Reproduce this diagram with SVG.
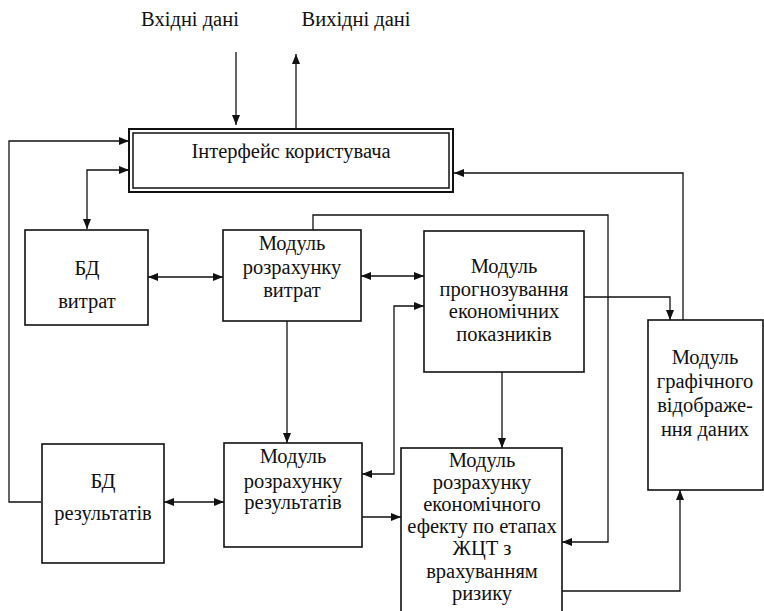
<svg xmlns="http://www.w3.org/2000/svg" width="764" height="611" viewBox="0 0 764 611">
<defs>
<marker id="ah" viewBox="0 0 10 8" refX="10" refY="4" markerWidth="10" markerHeight="8" markerUnits="userSpaceOnUse" orient="auto-start-reverse">
<path d="M0,0 L10,4 L0,8 Z" fill="#111"/>
</marker>
<style>
.box{fill:#fff;stroke:#111;stroke-width:1.6}
.c{fill:none;stroke:#111;stroke-width:1.3}
text{font-family:"Liberation Serif","Times New Roman",serif;font-size:20.5px;fill:#111;text-anchor:middle}
</style>
</defs>
<rect width="764" height="611" fill="#fff"/>
<g id="labels">
<text x="190" y="26">Вхідні дані</text>
<text x="356" y="26">Вихідні дані</text>
</g>
<g id="connectors">
<path class="c" d="M236,52 V125" marker-end="url(#ah)"/>
<path class="c" d="M296,129 V54" marker-end="url(#ah)"/>
<path class="c" d="M41,502 H9 V141 H129" marker-end="url(#ah)"/>
<path class="c" d="M87,229 V170 H129" marker-start="url(#ah)" marker-end="url(#ah)"/>
<path class="c" d="M683,320 V173 H454" marker-end="url(#ah)"/>
<path class="c" d="M148,277 H223" marker-start="url(#ah)" marker-end="url(#ah)"/>
<path class="c" d="M361,276 H424" marker-start="url(#ah)" marker-end="url(#ah)"/>
<path class="c" d="M313,230 V215 H608 V542 H562" marker-end="url(#ah)"/>
<path class="c" d="M362,474 H394 V306 H424" marker-start="url(#ah)" marker-end="url(#ah)"/>
<path class="c" d="M584,297 H670 V320" marker-end="url(#ah)"/>
<path class="c" d="M502,372 V448" marker-end="url(#ah)"/>
<path class="c" d="M287,321 V443" marker-end="url(#ah)"/>
<path class="c" d="M164,502 H224" marker-start="url(#ah)" marker-end="url(#ah)"/>
<path class="c" d="M362,517 H401" marker-end="url(#ah)"/>
<path class="c" d="M562,591 H680 V490" marker-end="url(#ah)"/>
</g>
<g id="interface">
<rect x="129" y="129" width="324" height="63" fill="#fff" stroke="#111" stroke-width="2"/>
<rect x="133" y="133" width="316" height="55" fill="none" stroke="#111" stroke-width="1.5"/>
<text x="291" y="158">Інтерфейс користувача</text>
</g>
<g id="bd-vytrat">
<rect class="box" x="25" y="230" width="123" height="95"/>
<text x="87" y="275">БД</text>
<text x="87" y="308">витрат</text>
</g>
<g id="m-vytrat">
<rect class="box" x="223" y="230" width="138" height="91"/>
<text x="292" y="250">Модуль</text>
<text x="292" y="274">розрахунку</text>
<text x="292" y="297">витрат</text>
</g>
<g id="m-prognoz">
<rect class="box" x="424" y="231" width="160" height="141"/>
<text x="504" y="273">Модуль</text>
<text x="504" y="296">прогнозування</text>
<text x="504" y="318">економічних</text>
<text x="504" y="341">показників</text>
</g>
<g id="m-graph">
<rect class="box" x="648" y="320" width="115" height="170"/>
<text x="705" y="364">Модуль</text>
<text x="705" y="388">графічного</text>
<text x="705" y="412">відображе-</text>
<text x="705" y="436">ння даних</text>
</g>
<g id="bd-rezult">
<rect class="box" x="42" y="444" width="122" height="119"/>
<text x="103" y="488">БД</text>
<text x="103" y="520">результатів</text>
</g>
<g id="m-rezult">
<rect class="box" x="224" y="443" width="138" height="104"/>
<text x="293" y="463">Модуль</text>
<text x="293" y="488">розрахунку</text>
<text x="293" y="509">результатів</text>
</g>
<g id="m-efekt">
<rect class="box" x="401" y="448" width="161" height="175"/>
<text x="482" y="467">Модуль</text>
<text x="482" y="489">розрахунку</text>
<text x="482" y="511">економічного</text>
<text x="482" y="533">ефекту по етапах</text>
<text x="482" y="555">ЖЦТ з</text>
<text x="482" y="578">врахуванням</text>
<text x="482" y="600">ризику</text>
</g>
</svg>
